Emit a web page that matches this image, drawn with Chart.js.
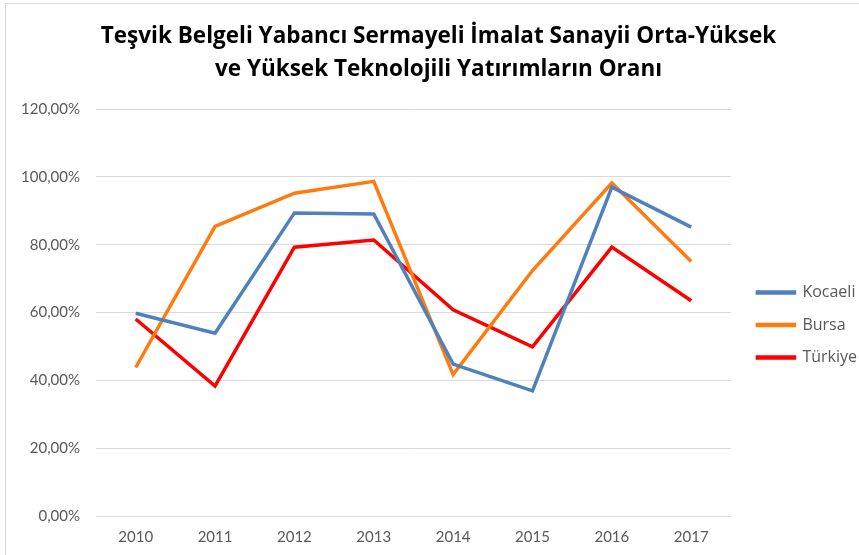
<!DOCTYPE html>
<html>
<head>
<meta charset="utf-8">
<script src="https://cdn.jsdelivr.net/npm/chart.js@4"></script>
<style>
  html, body { margin: 0; padding: 0; background: #fff; }
  #wrap { position: relative; width: 859px; height: 555px; }
  #frame { position: absolute; left: 5px; top: 3px; right: 0; bottom: 0; border-top: 1px solid #d9d9d9; border-left: 1px solid #d9d9d9; }
  canvas { position: absolute; left: 0; top: 0; }
</style>
</head>
<body>
<div id="wrap">
  <div id="frame"></div>
  <canvas id="c" width="859" height="555"></canvas>
</div>
<script>
const titleLines = ["Teşvik Belgeli Yabancı Sermayeli İmalat Sanayii Orta-Yüksek", "ve Yüksek Teknolojili Yatırımların Oranı"];
const years = ["2010", "2011", "2012", "2013", "2014", "2015", "2016", "2017"];
const kocaeli = [59.8, 53.9, 89.4, 89.1, 44.8, 36.9, 97.0, 85.2];
const bursa = [43.8, 85.4, 95.2, 98.7, 41.7, 72.4, 98.2, 75.1];
const turkiye = [58.1, 38.3, 79.3, 81.4, 60.8, 49.9, 79.3, 63.5];
const seriesNames = ["Kocaeli", "Bursa", "Türkiye"];
const seriesColors = ["#4F81BD", "#FF7B0E", "#FF0000"];
const yTicks = [0, 20, 40, 60, 80, 100, 120];

const font = "Lato, 'Open Sans', sans-serif";
const titleFont = "'Open Sans', sans-serif";
const grey = "#595959";

function ds(name, data, color) {
  return {
    label: name, data: data,
    borderColor: color, backgroundColor: color,
    borderWidth: 3.5, pointRadius: 0, pointHoverRadius: 0,
    tension: 0, fill: false
  };
}

new Chart(document.getElementById("c"), {
  type: "line",
  data: {
    labels: years,
    datasets: [
      ds(seriesNames[0], kocaeli, seriesColors[0]),
      ds(seriesNames[1], bursa, seriesColors[1]),
      ds(seriesNames[2], turkiye, seriesColors[2])
    ]
  },
  options: {
    responsive: false,
    animation: false,
    layout: { padding: { left: 10, right: -8, top: 0, bottom: -3 } },
    plugins: {
      tooltip: { enabled: false },
      title: {
        display: true,
        text: titleLines,
        color: "#000",
        font: { family: titleFont, size: 22.5, weight: "bold", lineHeight: 1.47 },
        padding: { top: 20, bottom: 23 }
      },
      legend: {
        position: "right",
        align: "center",
        title: { display: true, text: " ", font: { size: 1, lineHeight: 1.2 }, padding: { top: 86, bottom: 5 } },
        labels: {
          color: grey,
          font: { family: titleFont, size: 16 },
          boxWidth: 37,
          boxHeight: 1,
          padding: 16.5
        }
      }
    },
    scales: {
      x: {
        offset: true,
        grid: { display: false, drawTicks: false },
        border: { display: false },
        ticks: { color: grey, font: { family: font, size: 15 }, padding: 12, maxRotation: 0 }
      },
      y: {
        min: 0, max: 120,
        afterBuildTicks: (axis) => { axis.ticks = yTicks.map(v => ({ value: v })); },
        afterFit: (axis) => { axis.width = 86; },
        grid: { color: "#d9d9d9", lineWidth: 1, drawTicks: false },
        border: { display: false },
        ticks: {
          color: grey, font: { family: font, size: 15 }, padding: 16,
          callback: (v) => v.toFixed(2).replace(".", ",") + "%"
        }
      },
      gap: {
        position: "right",
        min: 0, max: 1,
        grid: { display: false, drawTicks: false },
        border: { display: false },
        ticks: { display: false },
        afterFit: (axis) => { axis.width = 10; }
      }
    }
  }
});
</script>
</body>
</html>
